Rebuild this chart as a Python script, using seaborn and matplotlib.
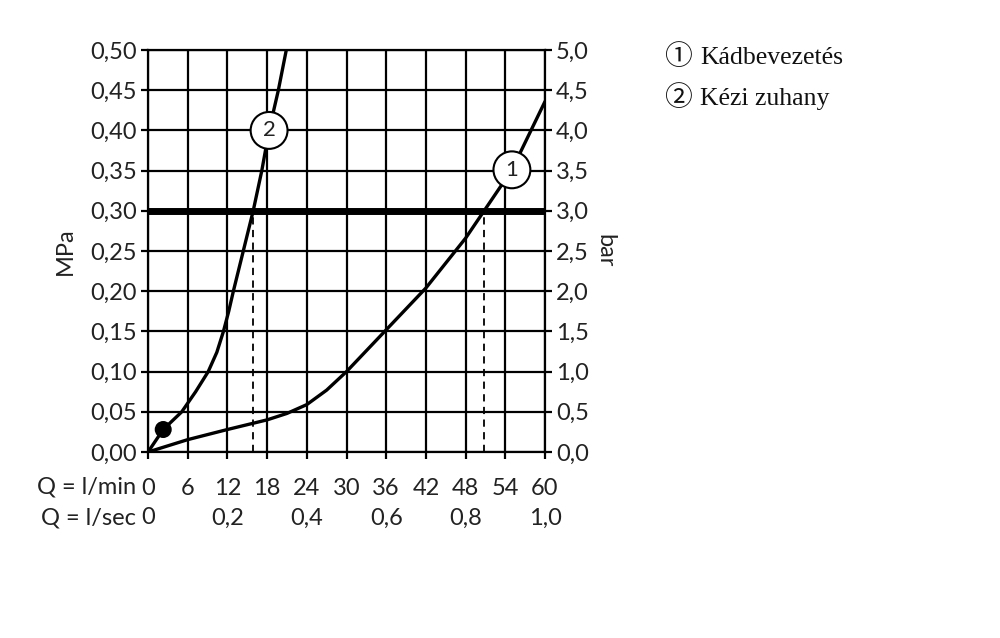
import numpy as np
import pandas as pd
import seaborn as sns
import matplotlib.pyplot as plt
from matplotlib.transforms import blended_transform_factory

# ---- data ----
q_kadbevezetes = [0, 6, 12, 18, 21, 24, 27, 30, 33, 36, 42, 48, 50.8, 55, 60]
p_kadbevezetes = [0, 0.0154, 0.028, 0.040, 0.048, 0.059, 0.077, 0.10, 0.126, 0.152,
                  0.204, 0.266, 0.30, 0.351, 0.436]
q_kezi = [0, 2.3, 5.1, 7.2, 9.1, 10.4, 11.4, 12.2, 12.9, 14.4, 15.9, 17.2, 18.3, 19.7, 20.9]
p_kezi = [0, 0.028, 0.05, 0.075, 0.10, 0.124, 0.15, 0.175, 0.20, 0.25, 0.30, 0.35,
          0.40, 0.45, 0.50]
limit_pressure = 0.30
op_q = [15.9, 50.8]
dot_q, dot_p = [2.3], [0.028]
label_pos_q = [55.0, 18.3]
label_pos_p = [0.351, 0.40]
label_txt = ["1", "2"]

lmin_ticks = list(range(0, 61, 6))
lsec_ticks = [0, 0.2, 0.4, 0.6, 0.8, 1.0]
mpa_ticks = [0, 0.05, 0.10, 0.15, 0.20, 0.25, 0.30, 0.35, 0.40, 0.45, 0.50]
bar_ticks = [0.0, 0.5, 1.0, 1.5, 2.0, 2.5, 3.0, 3.5, 4.0, 4.5, 5.0]
legend_marks = ["①", "②"]
legend_items = ["Kádbevezetés", "Kézi zuhany"]

# ---- plot ----
sns.set_theme(style="white")
plt.rcParams['font.family'] = ['Lato', 'DejaVu Sans']
FS = 17
TXT = '#222222'

fig = plt.figure(figsize=(10, 6.38), dpi=100)
ax = fig.add_axes([0.148, 0.2915, 0.397, 0.6301])

ax.set_xlim(0, 60)
ax.set_ylim(0, 0.5)
ax.set_xticks(lmin_ticks)
ax.set_yticks(mpa_ticks)
ax.grid(True, color='black', lw=1.6)
ax.set_axisbelow(True)
for s in ax.spines.values():
    s.set_color('black')
    s.set_linewidth(1.6)

ax.set_yticklabels([f"{v:.2f}".replace('.', ',') for v in mpa_ticks], fontsize=FS, color=TXT)
ax.set_xticklabels([str(v) for v in lmin_ticks], fontsize=FS, color=TXT)
ax.tick_params(axis='y', left=True, length=5, width=1.6, color='black', pad=3)
ax.tick_params(axis='x', bottom=True, length=5, width=1.6, color='black', pad=14)

# right axis in bar
ax2 = ax.twinx()
ax2.set_ylim(0, 5)
ax2.set_yticks(bar_ticks)
ax2.set_yticklabels([f"{v:.1f}".replace('.', ',') for v in bar_ticks], fontsize=FS, color=TXT)
ax2.tick_params(axis='y', right=True, length=5, width=1.6, color='black', pad=3)
ax2.set_ylabel("bar", fontsize=FS, color=TXT, rotation=270, labelpad=19)
ax2.grid(False)
for s in ax2.spines.values():
    s.set_visible(False)

# dashed operating lines
for q in op_q:
    ax.plot([q, q], [0, limit_pressure], color='black', lw=1.3, ls=(0, (4, 3)), zorder=3)

# thick limit line
ax.axhline(limit_pressure, color='black', lw=5, zorder=4)

# curves
df1 = pd.DataFrame({'Q': q_kadbevezetes, 'P': p_kadbevezetes})
df2 = pd.DataFrame({'Q': q_kezi, 'P': p_kezi})
sns.lineplot(data=df1, x='Q', y='P', ax=ax, color='black', lw=2.4, sort=False,
             estimator=None, zorder=5)
sns.lineplot(data=df2, x='Q', y='P', ax=ax, color='black', lw=2.4, sort=False,
             estimator=None, zorder=5)
sns.scatterplot(x=dot_q, y=dot_p, ax=ax, color='black', s=150, zorder=6, edgecolor='none')
ax.set_xlabel("")
ax.set_ylabel("MPa", fontsize=FS, color=TXT, labelpad=10)

for q, p, t in zip(label_pos_q, label_pos_p, label_txt):
    ax.text(q, p, t, ha='center', va='center', fontsize=16, zorder=7, color=TXT,
            bbox=dict(boxstyle='circle,pad=0.38', fc='white', ec='black', lw=1.5))

# bottom rows of labels
trans = blended_transform_factory(ax.transData, fig.transFigure)
y_row1 = 1 - 487 / 638
y_row2 = 1 - 518 / 638
fig.text(0.136, y_row1, "Q = l/min", ha='right', va='center', fontsize=FS, color=TXT)
fig.text(0.136, y_row2, "Q = l/sec", ha='right', va='center', fontsize=FS, color=TXT)
for v in lsec_ticks:
    lab = "0" if v == 0 else f"{v:.1f}".replace('.', ',')
    ax.text(v * 60, y_row2, lab, transform=trans, ha='center', va='center',
            fontsize=FS, color=TXT)

# legend text
serif = ['Liberation Serif', 'Noto Sans CJK SC', 'DejaVu Sans']
for i, (m, t) in enumerate(zip(legend_marks, legend_items)):
    yy = 1 - (58 + 41 * i) / 638
    fig.text(0.664, yy, m, family=serif, fontsize=20, va='center', color='#111111')
    fig.text(0.700, yy, t, family=serif, fontsize=18.5, va='center', color='#111111')

fig.savefig("out.png", dpi=100)
